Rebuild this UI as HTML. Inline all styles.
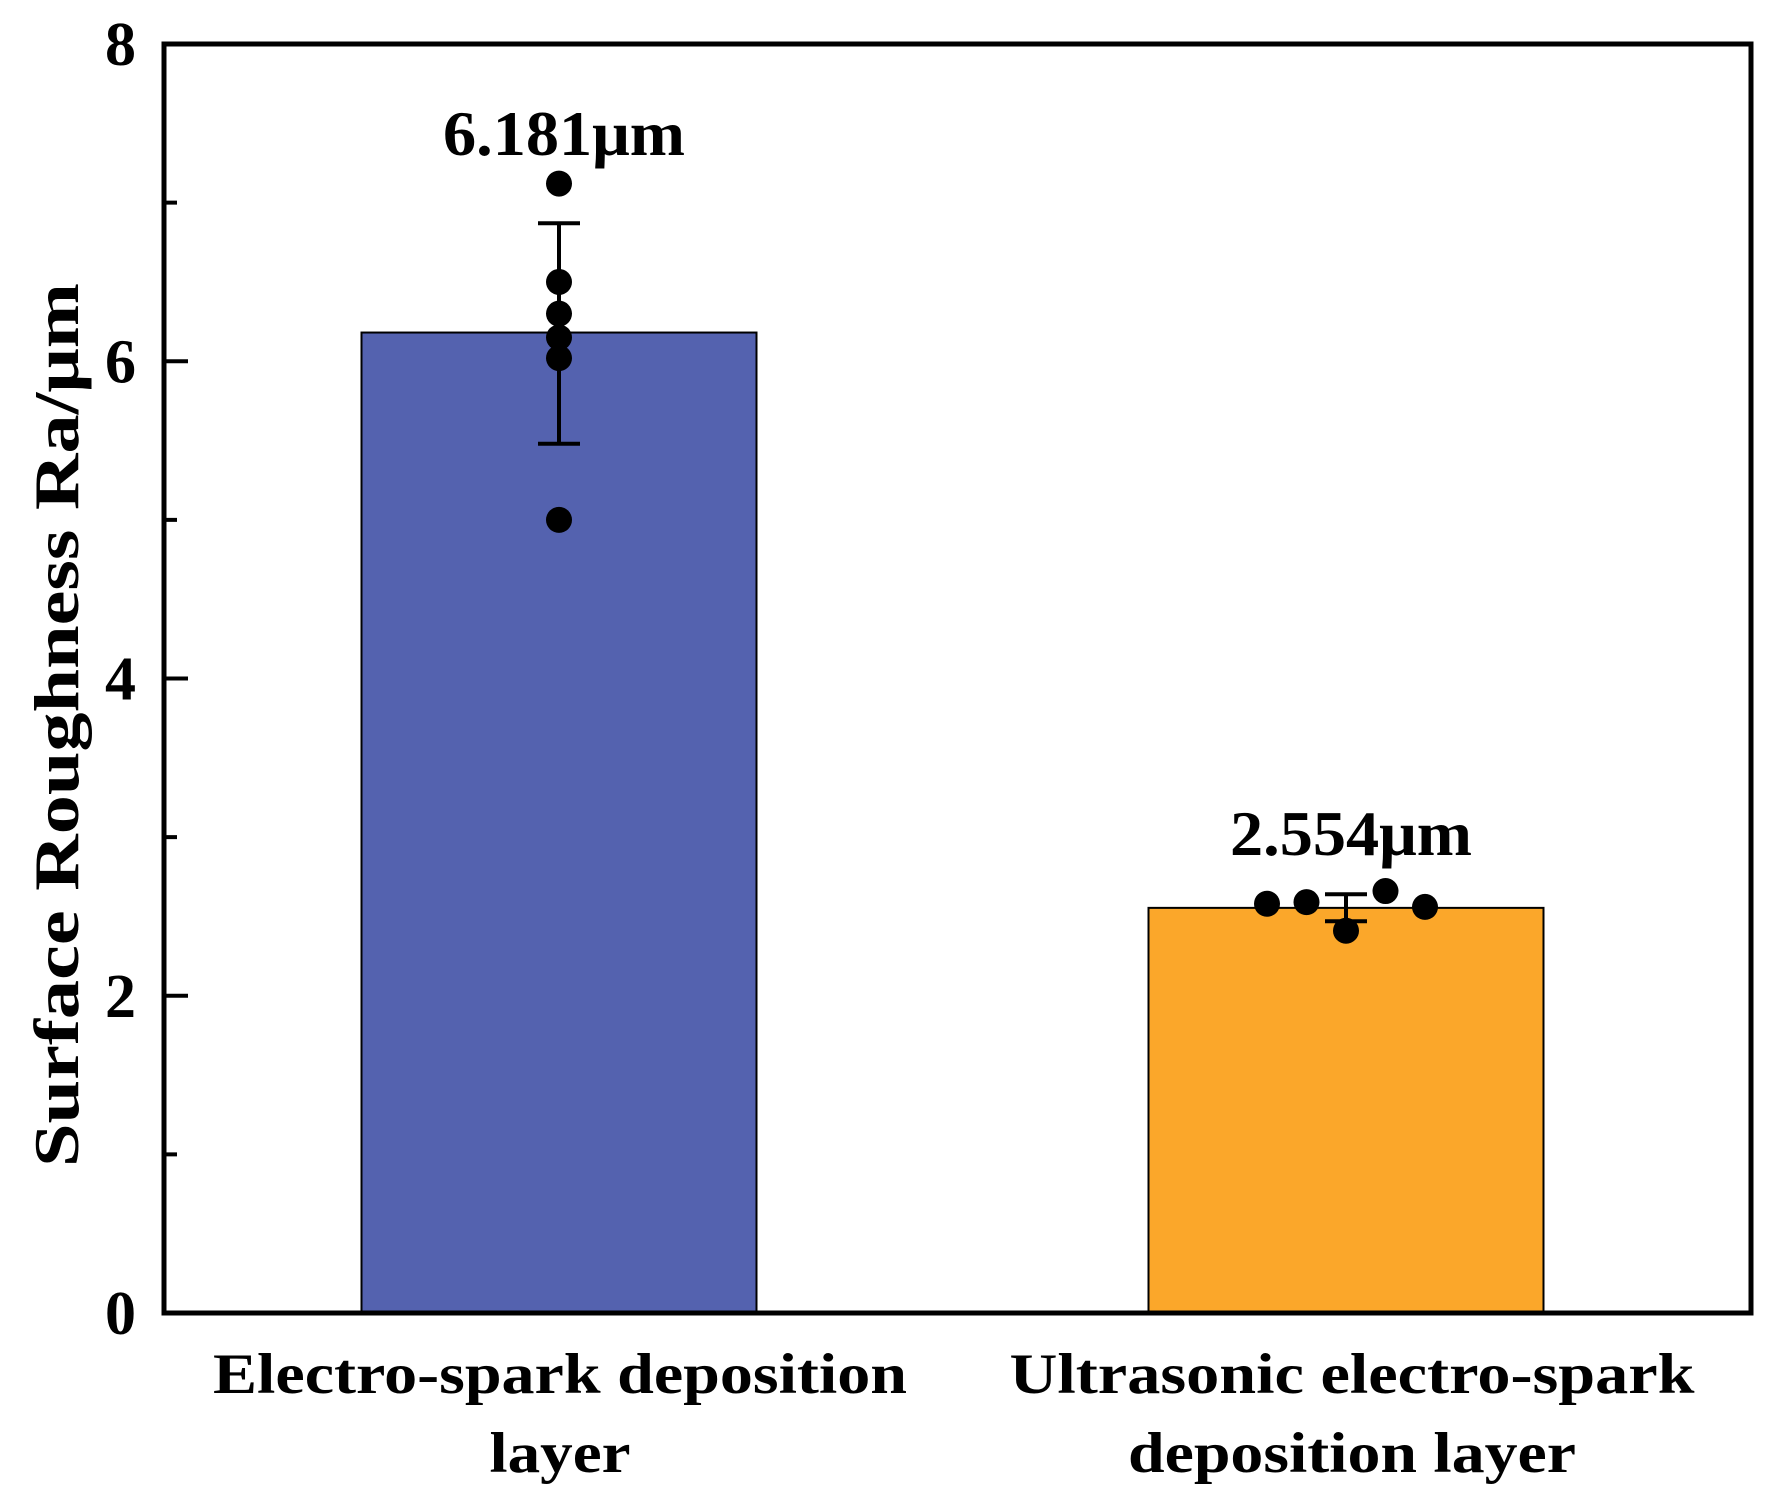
<!DOCTYPE html>
<html><head><meta charset="utf-8"><style>
html,body{margin:0;padding:0;background:#fff;}
svg{display:block;}
text{font-family:"Liberation Serif",serif;font-weight:bold;fill:#000;}
</style></head><body>
<svg id="chart" width="1768" height="1506" xmlns="http://www.w3.org/2000/svg"></svg>
<script>
const categories = [["Electro-spark deposition","layer"],["Ultrasonic electro-spark","deposition layer"]];
const barValues = [6.181, 2.554];
const valueLabels = ["6.181μm","2.554μm"];
const errLow = [5.48, 2.47];
const errHigh = [6.87, 2.64];
const points1 = [7.12, 6.5, 6.3, 6.15, 6.02, 5.0];
const points2 = [2.58, 2.59, 2.41, 2.66, 2.56];
const pointOffsets1 = [0,0,0,0,0,0];
const pointOffsets2 = [-2,-1,0,1,2];
const yTicks = [0,2,4,6,8];
const yMinor = [1,3,5,7];
const barColors = ["#5462AF","#FBA72A"];

const svg = document.getElementById('chart');
const NS = "http://www.w3.org/2000/svg";
const L=164, R=1751, T=44, B=1313;
const y = v => B - (v/8)*(B-T);
const centers = [559, 1346];
const barW = 395;
function mk(tag, attrs, parent){const e=document.createElementNS(NS,tag);for(const k in attrs)e.setAttribute(k,attrs[k]);(parent||svg).appendChild(e);return e;}

// bars
barValues.forEach((v,i)=>{
  const r = mk('rect',{x:centers[i]-barW/2,y:y(v),width:barW,height:B-y(v),fill:barColors[i],stroke:'#000','stroke-width':2});
  
  
  const t = mk('text',{x:centers[i]+5,y:(i==0?155:855),'text-anchor':'middle','font-size':64,textLength:242,lengthAdjust:'spacingAndGlyphs'});
  t.textContent = valueLabels[i];
  
  
});
// error bars
barValues.forEach((v,i)=>{
  const g = mk('g',{stroke:'#000','stroke-width':4});
  
  
  const c=centers[i];
  mk('line',{x1:c,x2:c,y1:y(errLow[i]),y2:y(errHigh[i])},g);
  mk('line',{x1:c-21,x2:c+21,y1:y(errLow[i]),y2:y(errLow[i])},g);
  mk('line',{x1:c-21,x2:c+21,y1:y(errHigh[i]),y2:y(errHigh[i])},g);
});
// points
[[points1,pointOffsets1],[points2,pointOffsets2]].forEach(([pts,offs],i)=>{
  pts.forEach((p,j)=>{
    const c = mk('circle',{cx:centers[i]+offs[j]*39.5,cy:y(p),r:13,fill:'#000'});
    
    
  });
});
// axes frame
const fr = mk('rect',{x:L,y:T,width:R-L,height:B-T,fill:'none',stroke:'#000','stroke-width':5});


yTicks.forEach(v=>{
  mk('line',{x1:L,x2:L+24,y1:y(v),y2:y(v),stroke:'#000','stroke-width':4});
  const t = mk('text',{x:136,y:y(v)+21,'text-anchor':'end','font-size':62});
  t.textContent = v;
  
  
});
yMinor.forEach(v=>{
  mk('line',{x1:L,x2:L+13,y1:y(v),y2:y(v),stroke:'#000','stroke-width':4});
});
// category labels
const catW = [[694,141],[685,448]];
categories.forEach((lines,i)=>{
  lines.forEach((ln,k)=>{
    const t = mk('text',{x:centers[i]+(i==0?1:6),y:1393+k*79,'text-anchor':'middle','font-size':57,textLength:catW[i][k],lengthAdjust:'spacingAndGlyphs'});
    t.textContent = ln;
    
    
  });
});
// y title
const yt = mk('text',{x:0,y:0,'text-anchor':'middle','font-size':64,transform:'translate(78,725) rotate(-90)',textLength:884,lengthAdjust:'spacingAndGlyphs'});
yt.textContent = "Surface Roughness Ra/μm";


</script>
</body></html>
